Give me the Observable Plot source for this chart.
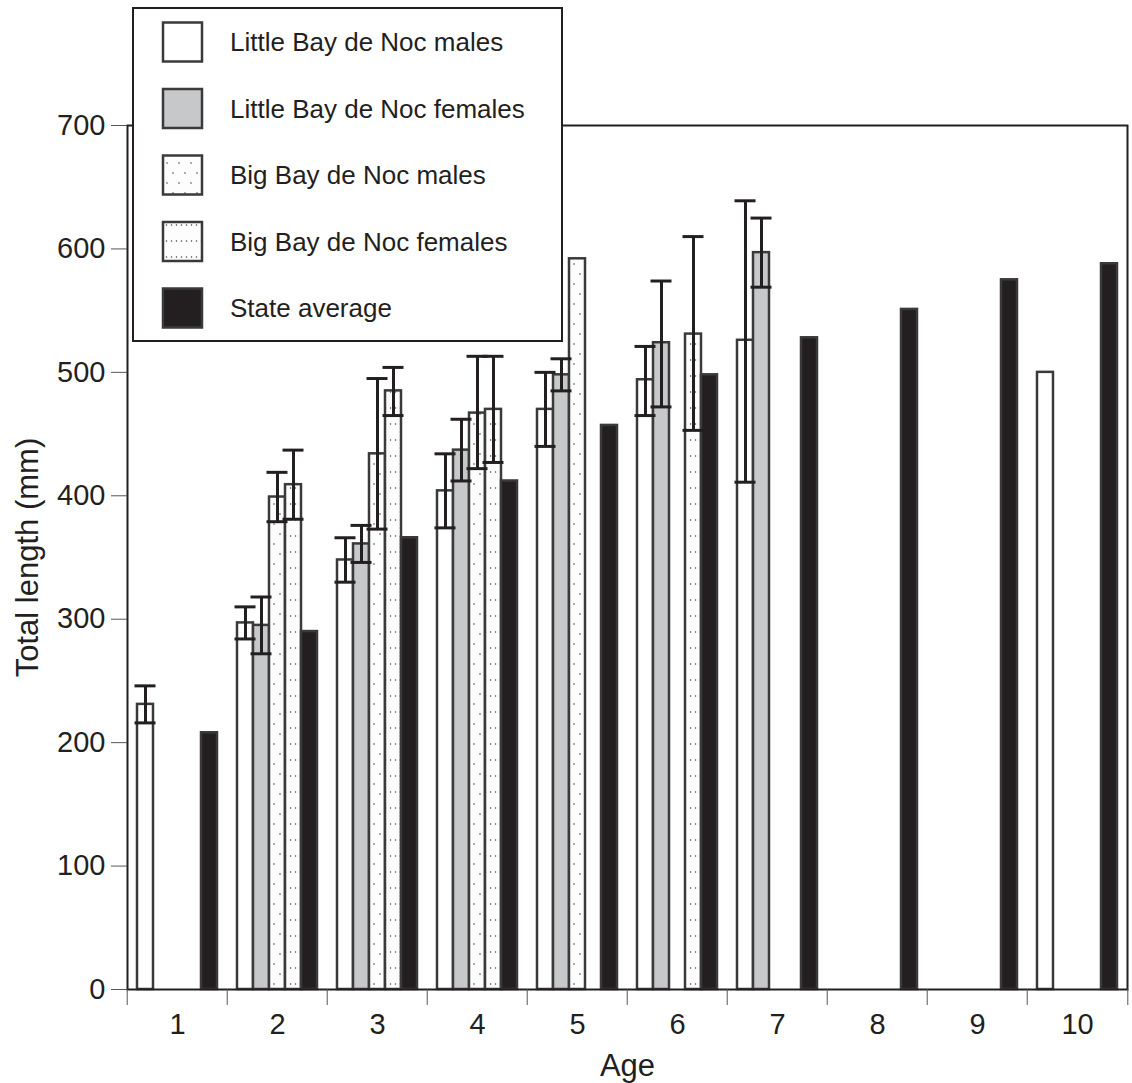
<!DOCTYPE html>
<html><head><meta charset="utf-8">
<script src="https://cdn.jsdelivr.net/npm/d3@7"></script>
<script src="https://cdn.jsdelivr.net/npm/@observablehq/plot@0.6"></script>
<style>
body{margin:0;background:#fff;font-family:"Liberation Sans",Arial,sans-serif;}
#wrap{position:relative;width:1132px;height:1083px;}
#legend{position:absolute;left:132px;top:7px;width:427px;height:331px;border:2px solid #231f20;background:#fff;}
#legend svg{display:block;}
</style></head><body>
<svg width="0" height="0" style="position:absolute">
<defs>
<pattern id="bbm" patternUnits="userSpaceOnUse" width="12" height="20">
 <rect width="12" height="20" fill="#fdfdfd"/>
 <circle cx="3" cy="4" r="0.8" fill="#444"/>
 <circle cx="9" cy="14" r="0.8" fill="#444"/>
</pattern>
<pattern id="bbf" patternUnits="userSpaceOnUse" width="5" height="16">
 <rect width="5" height="16" fill="#fdfdfd"/>
 <circle cx="2.5" cy="8" r="0.75" fill="#444"/>
</pattern>
</defs></svg>
<div id="wrap"><div id="chart"></div><div id="legend"></div></div>
<script>
const ages = [1, 2, 3, 4, 5, 6, 7, 8, 9, 10];
const series = ["Little Bay de Noc males", "Little Bay de Noc females", "Big Bay de Noc males", "Big Bay de Noc females", "State average"];
const fills = ["#ffffff", "#c7c8ca", "url(#bbm)", "url(#bbf)", "#231f20"];
const yTicks = [0, 100, 200, 300, 400, 500, 600, 700];

const lbmMean = [231, 297, 348, 404, 470, 494, 526, null, null, 500];
const lbmLow  = [216, 284, 330, 374, 440, 465, 411, null, null, null];
const lbmHigh = [246, 310, 366, 434, 500, 521, 639, null, null, null];

const lbfMean = [null, 295, 361, 437, 498, 524, 597, null, null, null];
const lbfLow  = [null, 272, 346, 412, 485, 472, 569, null, null, null];
const lbfHigh = [null, 318, 376, 462, 511, 574, 625, null, null, null];

const bbmMean = [null, 399, 434, 467, 592, null, null, null, null, null];
const bbmLow  = [null, 379, 373, 422, null, null, null, null, null, null];
const bbmHigh = [null, 419, 495, 513, null, null, null, null, null, null];

const bbfMean = [null, 409, 485, 470, null, 531, null, null, null, null];
const bbfLow  = [null, 381, 465, 427, null, 453, null, null, null, null];
const bbfHigh = [null, 437, 504, 513, null, 610, null, null, null, null];

const stateMean = [208, 290, 366, 412, 457, 498, 528, 551, 575, 588];

const seriesData = [
  [series[0], lbmMean, lbmLow, lbmHigh],
  [series[1], lbfMean, lbfLow, lbfHigh],
  [series[2], bbmMean, bbmLow, bbmHigh],
  [series[3], bbfMean, bbfLow, bbfHigh],
  [series[4], stateMean, null, null]
];
const rows = [];
ages.forEach((age, i) => {
  seriesData.forEach(([name, mean, lo, hi]) => {
    if (mean[i] != null) rows.push({age, series: name, mean: mean[i], lo: lo ? lo[i] : null, hi: hi ? hi[i] : null});
  });
});
const errs = rows.filter(d => d.lo != null && d.hi != null);

const W = 1132, H = 1083, mL = 124, mR = 2;
const bw = (W - mL - mR) / ages.length;
const ink = "#231f20";

const chart = Plot.plot({
  width: W, height: H,
  marginLeft: mL, marginRight: mR, marginTop: 125, marginBottom: 94,
  fx: {domain: ages, padding: 0, label: null},
  x: {domain: series, paddingInner: 0, paddingOuter: 0.45, axis: null},
  y: {domain: [0, 700], label: null},
  color: {domain: series, range: fills},
  style: {fontFamily: "'Liberation Sans', Arial, sans-serif", fontSize: "29px", color: ink, background: "white"},
  marks: [
    Plot.barY(rows, {fx: "age", x: "series", y: "mean", fill: "series", stroke: "#3a3a3a", strokeWidth: 2.5}),
    Plot.ruleX(errs, {fx: "age", x: "series", y1: "lo", y2: "hi", stroke: ink, strokeWidth: 3}),
    Plot.tickY(errs, {fx: "age", x: "series", y: "lo", stroke: ink, strokeWidth: 3, insetLeft: -2.5, insetRight: -2.5}),
    Plot.tickY(errs, {fx: "age", x: "series", y: "hi", stroke: ink, strokeWidth: 3, insetLeft: -2.5, insetRight: -2.5}),
    Plot.frame({facet: "super", stroke: ink, strokeWidth: 2}),
    Plot.axisY({ticks: yTicks, tickSize: 16, tickPadding: 6, fontSize: 29, stroke: "#555", label: "Total length (mm)", labelArrow: "none", labelAnchor: "center", labelOffset: 112}),
    Plot.axisFx({anchor: "bottom", tickSize: 0, tickPadding: 24, fontSize: 29, label: "Age", labelArrow: "none", labelAnchor: "center", labelOffset: 86}),
    Plot.axisFx({anchor: "bottom", tickSize: 16, tickFormat: () => "", dx: -bw / 2, label: null, stroke: "#555"}),
    Plot.axisFx({anchor: "bottom", ticks: [10], tickSize: 16, tickFormat: () => "", dx: bw / 2, label: null, stroke: "#555"})
  ]
});
document.getElementById("chart").appendChild(chart);
d3.select(chart).selectAll('[aria-label="y-axis label"] text, [aria-label="fx-axis label"] text').attr("font-size", 31);

// Legend
const lg = d3.select("#legend").append("svg").attr("width", 427).attr("height", 331);
series.forEach((s, i) => {
  const cy = 33 + i * 66.5;
  lg.append("rect").attr("x", 29).attr("y", cy - 19.5).attr("width", 39).attr("height", 39)
    .attr("fill", fills[i]).attr("stroke", "#3a3a3a").attr("stroke-width", 2.5);
  lg.append("text").attr("x", 96).attr("y", cy).attr("dy", "0.35em")
    .attr("font-size", 26).attr("fill", ink).text(s);
});
</script>
</body></html>
